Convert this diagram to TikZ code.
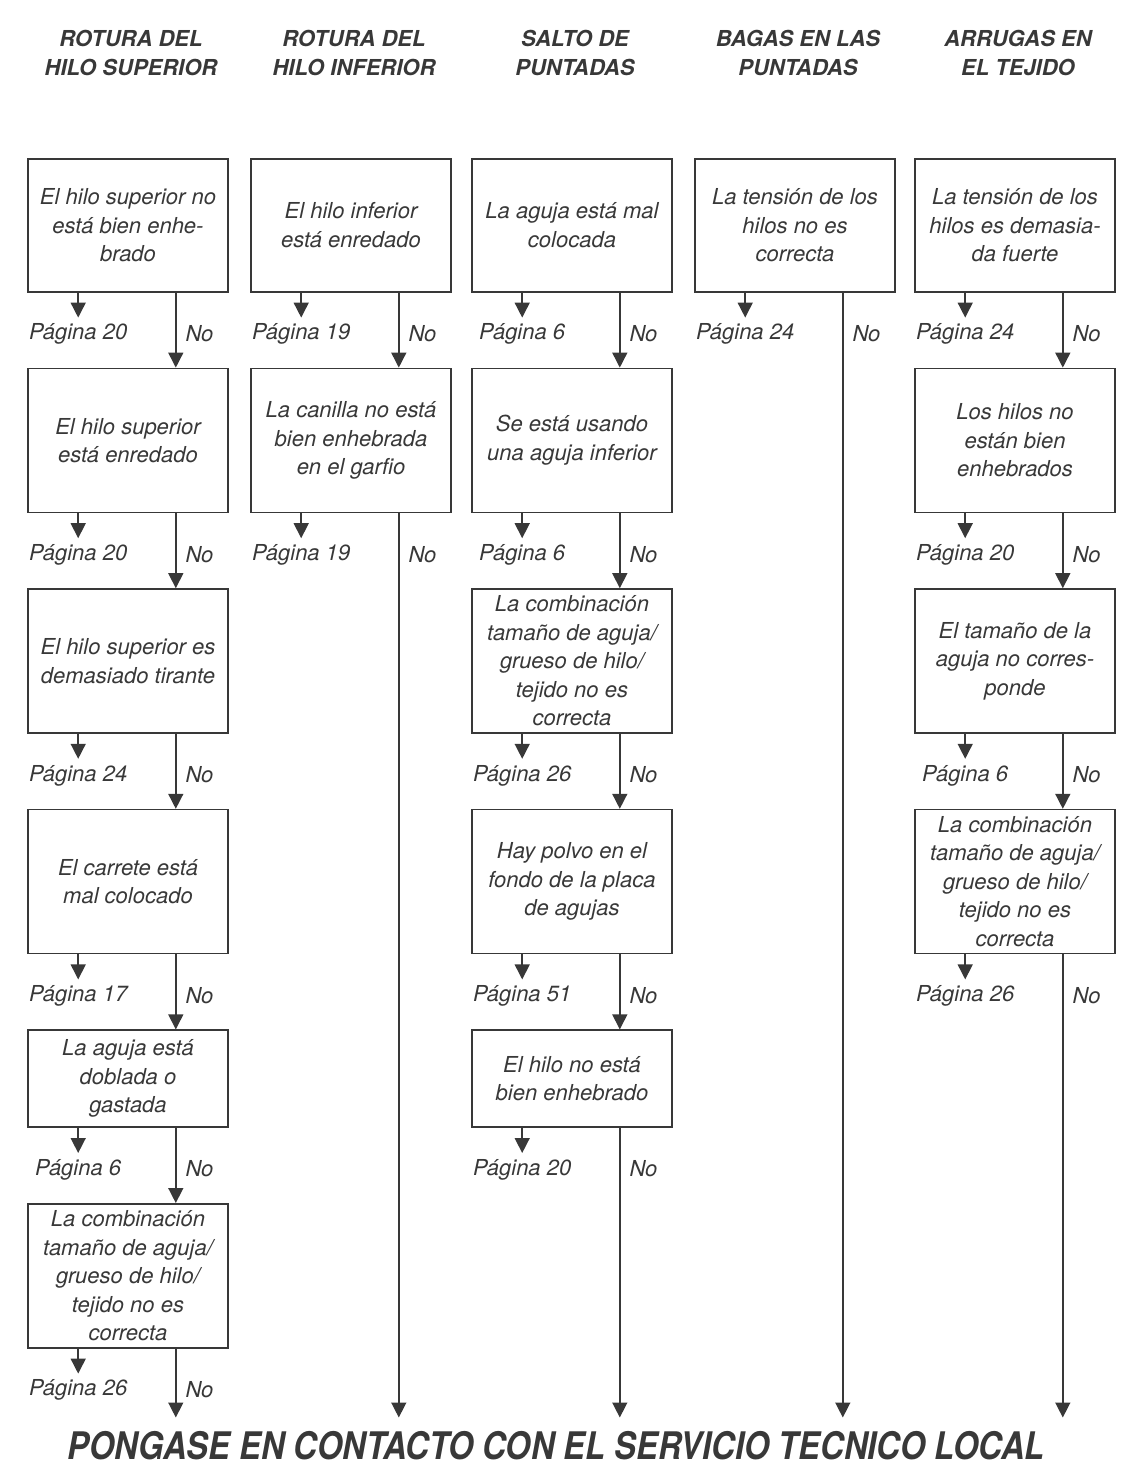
\documentclass[tikz,border=0pt]{standalone}
\usepackage{fontspec}
\setmainfont{TeX Gyre Heros}
\usepackage{graphicx}
\usetikzlibrary{arrows.meta, positioning}
\definecolor{ink}{gray}{0.22}
\tikzset{
  causebox/.style={rectangle, draw=ink, line width=1.6pt, minimum width=200pt,
    minimum height=144pt, inner sep=3pt, align=center, text=ink,
    font=\fontsize{22}{28.5}\selectfont\itshape},
  firstbox/.style={causebox, minimum height=133pt},
  shortbox/.style={causebox, minimum height=97pt},
  colhead/.style={align=center, text=ink, font=\fontsize{22}{29}\selectfont\bfseries\itshape},
  pagelabel/.style={inner sep=1pt, text=ink, font=\fontsize{22}{26}\selectfont\itshape},
  nolabel/.style={inner sep=1pt, text=ink, font=\fontsize{22}{26}\selectfont\itshape,
    at start, anchor=west, xshift=8pt, yshift=-41pt},
  contact/.style={inner sep=4pt, text=ink, font=\fontsize{38}{40}\selectfont\bfseries\itshape},
  noarrow/.style={-{Triangle[length=15pt, width=15pt]}, line width=1.5pt, draw=ink},
  pagearrow/.style={-{Triangle[length=15pt, width=15pt]}, line width=1.5pt, draw=ink, shorten >=5pt},
  longarrow/.style={noarrow, shorten >=10pt}
}

\begin{document}
\begin{tikzpicture}[x=1pt, y=-1pt, node distance=75pt]
  \useasboundingbox (0,0) rectangle (1133,1471);

  % column headings
  \node[colhead] (h1) at (131,53) {ROTURA DEL\\ HILO SUPERIOR};
  \node[colhead] (h2) at (354,53) {ROTURA DEL\\ HILO INFERIOR};
  \node[colhead] (h3) at (575,53) {SALTO DE\\ PUNTADAS};
  \node[colhead] (h4) at (798,53) {BAGAS EN LAS\\ PUNTADAS};
  \node[colhead] (h5) at (1018,53) {ARRUGAS EN\\ EL TEJIDO};

  % rotura del hilo superior
  \node[firstbox, anchor=north] (a1) at (128,158) {El hilo superior no\\ está bien enhe-\\ brado};
  \node[causebox, below=of a1] (a2) {El hilo superior\\ está enredado};
  \node[causebox, below=of a2] (a3) {El hilo superior es\\ demasiado tirante};
  \node[causebox, below=of a3] (a4) {El carrete está\\ mal colocado};
  \node[shortbox, below=of a4] (a5) {La aguja está\\ doblada o\\ gastada};
  \node[causebox, below=of a5] (a6) {La combinación\\ tamaño de aguja/\\ grueso de hilo/\\ tejido no es\\ correcta};

  % rotura del hilo inferior
  \node[firstbox, anchor=north] (b1) at (351,158) {El hilo inferior\\ está enredado};
  \node[causebox, below=of b1] (b2) {La canilla no está\\ bien enhebrada\\ en el garfio};

  % salto de puntadas
  \node[firstbox, anchor=north] (c1) at (572,158) {La aguja está mal\\ colocada};
  \node[causebox, below=of c1] (c2) {Se está usando\\ una aguja inferior};
  \node[causebox, below=of c2] (c3) {La combinación\\ tamaño de aguja/\\ grueso de hilo/\\ tejido no es\\ correcta};
  \node[causebox, below=of c3] (c4) {Hay polvo en el\\ fondo de la placa\\ de agujas};
  \node[shortbox, below=of c4] (c5) {El hilo no está\\ bien enhebrado};

  % bagas en las puntadas
  \node[firstbox, anchor=north] (d1) at (795,158) {La tensión de los\\ hilos no es\\ correcta};

  % arrugas en el tejido
  \node[firstbox, anchor=north] (e1) at (1015,158) {La tensión de los\\ hilos es demasia-\\ da fuerte};
  \node[causebox, below=of e1] (e2) {Los hilos no\\ están bien\\ enhebrados};
  \node[causebox, below=of e2] (e3) {El tamaño de la\\ aguja no corres-\\ ponde};
  \node[causebox, below=of e3] (e4) {La combinación\\ tamaño de aguja/\\ grueso de hilo/\\ tejido no es\\ correcta};

  \node[contact] (contact) at (556,1446) {\scalebox{0.86}[1]{PONGASE EN CONTACTO CON EL SERVICIO TECNICO LOCAL}};

  % page references
  \node[pagelabel, below=30pt of a1.south west, xshift=51pt] (pa1) {Página 20};
  \node[pagelabel, below=30pt of a2.south west, xshift=51pt] (pa2) {Página 20};
  \node[pagelabel, below=30pt of a3.south west, xshift=51pt] (pa3) {Página 24};
  \node[pagelabel, below=30pt of a4.south west, xshift=51pt] (pa4) {Página 17};
  \node[pagelabel, below=30pt of a5.south west, xshift=51pt] (pa5) {Página 6};
  \node[pagelabel, below=30pt of a6.south west, xshift=51pt] (pa6) {Página 26};
  \node[pagelabel, below=30pt of b1.south west, xshift=51pt] (pb1) {Página 19};
  \node[pagelabel, below=30pt of b2.south west, xshift=51pt] (pb2) {Página 19};
  \node[pagelabel, below=30pt of c1.south west, xshift=51pt] (pc1) {Página 6};
  \node[pagelabel, below=30pt of c2.south west, xshift=51pt] (pc2) {Página 6};
  \node[pagelabel, below=30pt of c3.south west, xshift=51pt] (pc3) {Página 26};
  \node[pagelabel, below=30pt of c4.south west, xshift=51pt] (pc4) {Página 51};
  \node[pagelabel, below=30pt of c5.south west, xshift=51pt] (pc5) {Página 20};
  \node[pagelabel, below=30pt of d1.south west, xshift=51pt] (pd1) {Página 24};
  \node[pagelabel, below=30pt of e1.south west, xshift=51pt] (pe1) {Página 24};
  \node[pagelabel, below=30pt of e2.south west, xshift=51pt] (pe2) {Página 20};
  \node[pagelabel, below=30pt of e3.south west, xshift=51pt] (pe3) {Página 6};
  \node[pagelabel, below=30pt of e4.south west, xshift=51pt] (pe4) {Página 26};

  \draw[pagearrow] (a1.south -| pa1) -- (pa1);
  \draw[pagearrow] (a2.south -| pa2) -- (pa2);
  \draw[pagearrow] (a3.south -| pa3) -- (pa3);
  \draw[pagearrow] (a4.south -| pa4) -- (pa4);
  \draw[pagearrow] (a5.south -| pa5) -- (pa5);
  \draw[pagearrow] (a6.south -| pa6) -- (pa6);
  \draw[pagearrow] (b1.south -| pb1) -- (pb1);
  \draw[pagearrow] (b2.south -| pb2) -- (pb2);
  \draw[pagearrow] (c1.south -| pc1) -- (pc1);
  \draw[pagearrow] (c2.south -| pc2) -- (pc2);
  \draw[pagearrow] (c3.south -| pc3) -- (pc3);
  \draw[pagearrow] (c4.south -| pc4) -- (pc4);
  \draw[pagearrow] (c5.south -| pc5) -- (pc5);
  \draw[pagearrow] (d1.south -| pd1) -- (pd1);
  \draw[pagearrow] (e1.south -| pe1) -- (pe1);
  \draw[pagearrow] (e2.south -| pe2) -- (pe2);
  \draw[pagearrow] (e3.south -| pe3) -- (pe3);
  \draw[pagearrow] (e4.south -| pe4) -- (pe4);

  % "No" branches
  \draw[noarrow] ([xshift=-53pt]a1.south east) -- node[nolabel] (na1) {No} ([xshift=-53pt]a2.north east);
  \draw[noarrow] ([xshift=-53pt]a2.south east) -- node[nolabel] (na2) {No} ([xshift=-53pt]a3.north east);
  \draw[noarrow] ([xshift=-53pt]a3.south east) -- node[nolabel] (na3) {No} ([xshift=-53pt]a4.north east);
  \draw[noarrow] ([xshift=-53pt]a4.south east) -- node[nolabel] (na4) {No} ([xshift=-53pt]a5.north east);
  \draw[noarrow] ([xshift=-53pt]a5.south east) -- node[nolabel] (na5) {No} ([xshift=-53pt]a6.north east);
  \draw[longarrow] ([xshift=-53pt]a6.south east) -- node[nolabel] (na6) {No} ([xshift=-53pt]a6.south east |- contact.north);
  \draw[noarrow] ([xshift=-53pt]b1.south east) -- node[nolabel] (nb1) {No} ([xshift=-53pt]b2.north east);
  \draw[longarrow] ([xshift=-53pt]b2.south east) -- node[nolabel] (nb2) {No} ([xshift=-53pt]b2.south east |- contact.north);
  \draw[noarrow] ([xshift=-53pt]c1.south east) -- node[nolabel] (nc1) {No} ([xshift=-53pt]c2.north east);
  \draw[noarrow] ([xshift=-53pt]c2.south east) -- node[nolabel] (nc2) {No} ([xshift=-53pt]c3.north east);
  \draw[noarrow] ([xshift=-53pt]c3.south east) -- node[nolabel] (nc3) {No} ([xshift=-53pt]c4.north east);
  \draw[noarrow] ([xshift=-53pt]c4.south east) -- node[nolabel] (nc4) {No} ([xshift=-53pt]c5.north east);
  \draw[longarrow] ([xshift=-53pt]c5.south east) -- node[nolabel] (nc5) {No} ([xshift=-53pt]c5.south east |- contact.north);
  \draw[longarrow] ([xshift=-53pt]d1.south east) -- node[nolabel] (nd1) {No} ([xshift=-53pt]d1.south east |- contact.north);
  \draw[noarrow] ([xshift=-53pt]e1.south east) -- node[nolabel] (ne1) {No} ([xshift=-53pt]e2.north east);
  \draw[noarrow] ([xshift=-53pt]e2.south east) -- node[nolabel] (ne2) {No} ([xshift=-53pt]e3.north east);
  \draw[noarrow] ([xshift=-53pt]e3.south east) -- node[nolabel] (ne3) {No} ([xshift=-53pt]e4.north east);
  \draw[longarrow] ([xshift=-53pt]e4.south east) -- node[nolabel] (ne4) {No} ([xshift=-53pt]e4.south east |- contact.north);
\end{tikzpicture}
\end{document}
